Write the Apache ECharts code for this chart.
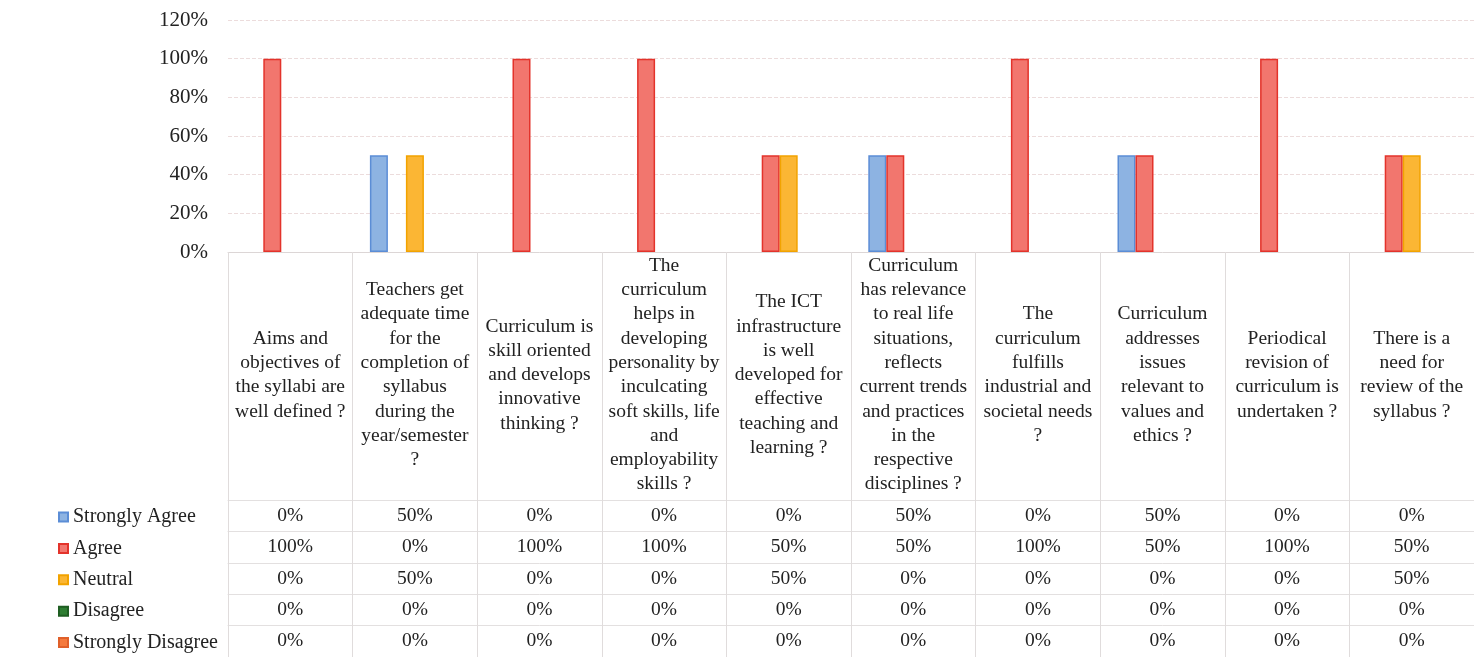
<!DOCTYPE html>
<html>
<head>
<meta charset="utf-8">
<script src="https://cdn.jsdelivr.net/npm/echarts@6/dist/echarts.min.js"></script>
<style>
  html, body { margin: 0; padding: 0; background: #fff; }
  #chart { width: 1474px; height: 657px; }
</style>
</head>
<body>
<div id="chart"></div>
<script>
const categories = [
  'Aims and\nobjectives of\nthe syllabi are\nwell defined ?',
  'Teachers get\nadequate time\nfor the\ncompletion of\nsyllabus\nduring the\nyear/semester\n?',
  'Curriculum is\nskill oriented\nand develops\ninnovative\nthinking ?',
  'The\ncurriculum\nhelps in\ndeveloping\npersonality by\ninculcating\nsoft skills, life\nand\nemployability\nskills ?',
  'The ICT\ninfrastructure\nis well\ndeveloped for\neffective\nteaching and\nlearning ?',
  'Curriculum\nhas relevance\nto real life\nsituations,\nreflects\ncurrent trends\nand practices\nin the\nrespective\ndisciplines ?',
  'The\ncurriculum\nfulfills\nindustrial and\nsocietal needs\n?',
  'Curriculum\naddresses\nissues\nrelevant to\nvalues and\nethics ?',
  'Periodical\nrevision of\ncurriculum is\nundertaken ?',
  'There is a\nneed for\nreview of the\nsyllabus ?'
];

const seriesNames = ['Strongly Agree', 'Agree', 'Neutral', 'Disagree', 'Strongly Disagree'];

const stronglyAgree    = [0, 50, 0, 0, 0, 50, 0, 50, 0, 0];
const agree            = [100, 0, 100, 100, 50, 50, 100, 50, 100, 50];
const neutral          = [0, 50, 0, 0, 50, 0, 0, 0, 0, 50];
const disagree         = [0, 0, 0, 0, 0, 0, 0, 0, 0, 0];
const stronglyDisagree = [0, 0, 0, 0, 0, 0, 0, 0, 0, 0];

const yTicks = [0, 20, 40, 60, 80, 100, 120];

const allValues = [stronglyAgree, agree, neutral, disagree, stronglyDisagree];

const fills   = ['#8DB3E2', '#F2766E', '#FBB634', '#2E7D32', '#F57A3D'];
const borders = ['#5B8DD6', '#E3332B', '#F2A300', '#1F5E22', '#E0602A'];

const FONT = '"Liberation Serif", "Times New Roman", serif';
const TEXT = '#222';

const AXIS_Y = 252;
const ROW_TOP = 500;
const ROW_H = 31.4;

// one category axis per table row, shifted down below the plot
const rowAxes = allValues.map((vals, i) => ({
  type: 'category',
  position: 'bottom',
  gridIndex: 0,
  offset: ROW_TOP + i * ROW_H - AXIS_Y,
  data: vals.map(v => v + '%'),
  axisLine: { show: true, lineStyle: { color: '#e3e0e0', width: 1 } },
  axisTick: { show: false },
  axisLabel: {
    interval: 0,
    margin: ROW_H / 2,
    verticalAlign: 'middle',
    fontFamily: FONT,
    fontSize: 19.5,
    color: TEXT
  }
}));

const chart = echarts.init(document.getElementById('chart'));

chart.setOption({
  backgroundColor: '#fff',
  animation: false,
  grid: {
    left: 228,
    right: 0,
    top: 20,
    bottom: 657 - AXIS_Y,
    outerBoundsMode: 'none'
  },
  legend: {
    data: seriesNames,
    orient: 'vertical',
    left: 58,
    top: 507,
    padding: 0,
    icon: 'rect',
    itemWidth: 9,
    itemHeight: 9,
    itemGap: 11.4,
    selectedMode: false,
    textStyle: { fontFamily: FONT, fontSize: 20, color: TEXT, lineHeight: 20 }
  },
  xAxis: [{
    type: 'category',
    data: categories,
    axisLine: { show: true, lineStyle: { color: '#dcd6d6', width: 1 } },
    axisTick: { show: true, length: 405, interval: 0, lineStyle: { color: '#e0dcdc', width: 1 } },
    axisLabel: {
      interval: 0,
      margin: 123,
      verticalAlign: 'middle',
      align: 'center',
      fontFamily: FONT,
      fontSize: 19.5,
      lineHeight: 24.3,
      color: TEXT
    }
  }].concat(rowAxes),
  yAxis: {
    type: 'value',
    min: yTicks[0],
    max: yTicks[yTicks.length - 1],
    interval: 20,
    axisLine: { show: false },
    axisTick: { show: false },
    axisLabel: {
      formatter: '{value}%',
      margin: 20,
      fontFamily: FONT,
      fontSize: 21,
      color: TEXT
    },
    splitLine: { lineStyle: { color: '#ecdcdc', type: 'dashed', width: 1 } }
  },
  series: allValues.map((vals, i) => ({
    name: seriesNames[i],
    type: 'bar',
    xAxisIndex: 0,
    data: vals.map(v => ({ value: v, itemStyle: v === 0 ? { borderWidth: 0 } : {} })),
    barWidth: 18,
    barGap: '0%',
    itemStyle: { color: fills[i], borderColor: borders[i], borderWidth: 1.5 }
  }))
});
</script>
</body>
</html>
